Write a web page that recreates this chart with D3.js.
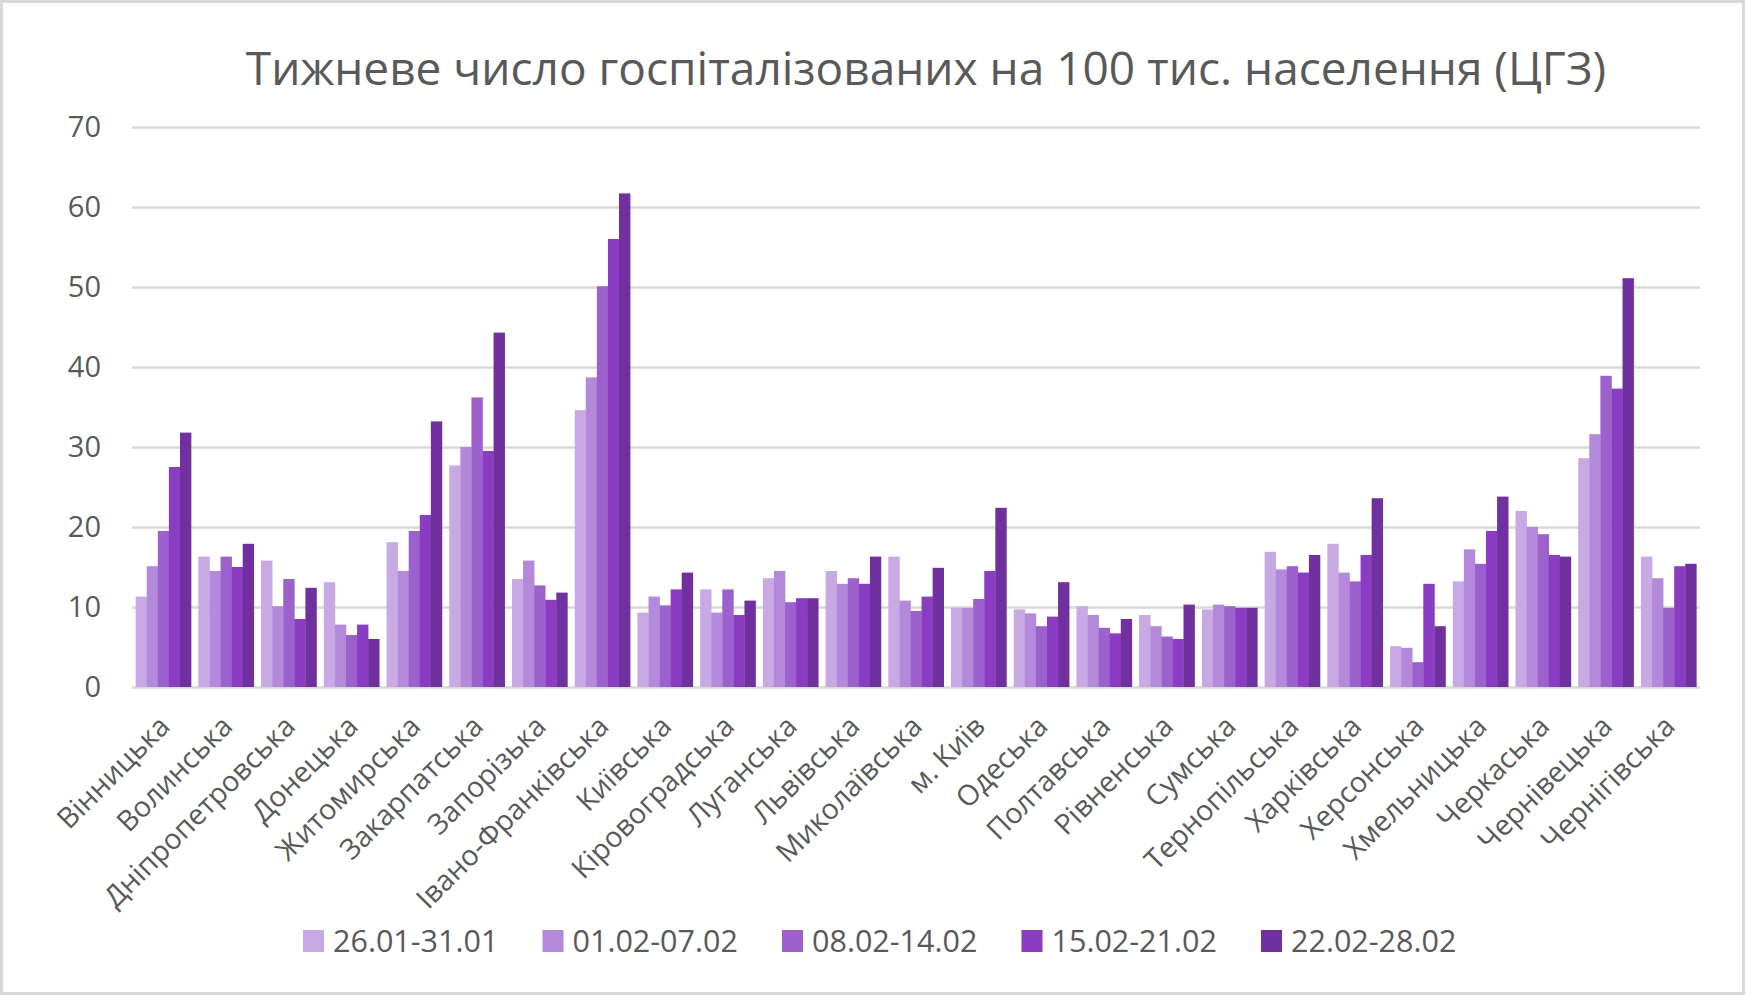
<!DOCTYPE html>
<html>
<head>
<meta charset="utf-8">
<script src="https://cdn.jsdelivr.net/npm/d3@7"></script>
<style>
  html, body { margin: 0; padding: 0; background: #fff; }
  svg { display: block; font-family: "Open Sans", "Noto Sans", sans-serif; }
</style>
</head>
<body>
<div id="chart"></div>
<script>
// Regions (x axis categories).
const regions = [
  "Вінницька", "Волинська", "Дніпропетровська", "Донецька", "Житомирська",
  "Закарпатська", "Запорізька", "Івано-Франківська", "Київська", "Кіровоградська",
  "Луганська", "Львівська", "Миколаївська", "м. Київ", "Одеська",
  "Полтавська", "Рівненська", "Сумська", "Тернопільська", "Харківська",
  "Херсонська", "Хмельницька", "Черкаська", "Чернівецька", "Чернігівська"
];

// Week labels (legend).
const weeks = ["26.01-31.01", "01.02-07.02", "08.02-14.02", "15.02-21.02", "22.02-28.02"];

// Values per week, same order as regions.
const week1 = [11.3, 16.3, 15.8, 13.1, 18.1, 27.7, 13.5, 34.6, 9.3, 12.2, 13.6, 14.5, 16.3, 9.9, 9.7, 10.1, 9.0, 9.7, 16.9, 17.9, 5.1, 13.2, 22.0, 28.6, 16.3];
const week2 = [15.1, 14.5, 10.1, 7.8, 14.5, 30.0, 15.8, 38.7, 11.3, 9.3, 14.5, 12.9, 10.8, 9.9, 9.2, 9.0, 7.6, 10.3, 14.7, 14.3, 4.9, 17.2, 20.0, 31.6, 13.6];
const week3 = [19.5, 16.3, 13.5, 6.5, 19.5, 36.2, 12.7, 50.1, 10.2, 12.2, 10.6, 13.6, 9.5, 11.0, 7.6, 7.4, 6.3, 10.1, 15.1, 13.2, 3.1, 15.4, 19.1, 38.9, 9.9];
const week4 = [27.5, 15.0, 8.5, 7.8, 21.5, 29.5, 10.9, 56.0, 12.2, 9.0, 11.1, 12.9, 11.3, 14.5, 8.8, 6.7, 6.0, 9.9, 14.3, 16.5, 12.9, 19.5, 16.5, 37.3, 15.1];
const week5 = [31.8, 17.9, 12.4, 6.0, 33.2, 44.3, 11.8, 61.7, 14.3, 10.8, 11.1, 16.3, 14.9, 22.4, 13.1, 8.5, 10.3, 9.9, 16.5, 23.6, 7.6, 23.8, 16.3, 51.1, 15.4];

const yTicks = [0, 10, 20, 30, 40, 50, 60, 70];

const colors = ["#c8a9e3", "#b488da", "#9d61cd", "#8a3cc3", "#7030a0"];

const series = [week1, week2, week3, week4, week5];

// Chart size and plot area.
const width = 1746, height = 997;
const plot = { left: 132, right: 1700, top: 127, bottom: 687 };
const textColor = "#595959";
const gridColor = "#d9d9d9";

const svg = d3.select("#chart")
  .append("svg")
    .attr("width", width)
    .attr("height", height);

// Background and outer border.
svg.append("rect")
  .attr("x", 1.5).attr("y", 1.5)
  .attr("width", width - 4).attr("height", height - 5)
  .attr("fill", "#fff")
  .attr("stroke", gridColor)
  .attr("stroke-width", 3);

// Scales.
const x0 = d3.scaleBand()
  .domain(regions)
  .range([plot.left, plot.right])
  .paddingInner(0.117)
  .paddingOuter(0.0585);

const x1 = d3.scaleBand()
  .domain(d3.range(weeks.length))
  .range([0, x0.bandwidth()]);

const y = d3.scaleLinear()
  .domain([0, 70])
  .range([plot.bottom, plot.top]);

// Gridlines and y labels.
const yAxis = svg.append("g")
  .attr("transform", "translate(" + plot.left + ",0)")
  .call(d3.axisLeft(y).tickValues(yTicks).tickSize(-(plot.right - plot.left)).tickPadding(31));

yAxis.select(".domain").remove();
yAxis.selectAll(".tick line")
  .attr("stroke", gridColor)
  .attr("stroke-width", 2.5);
yAxis.selectAll(".tick text")
  .attr("fill", textColor)
  .style("font-size", "29px")
  .style("font-family", "'Open Sans', sans-serif");

// Bars.
const groups = svg.append("g")
  .selectAll("g")
  .data(regions)
  .enter()
  .append("g")
    .attr("transform", d => "translate(" + x0(d) + ",0)");

groups.selectAll("rect")
  .data((d, i) => series.map((s, k) => ({ k: k, v: s[i] })))
  .enter()
  .append("rect")
    .attr("x", d => x1(d.k))
    .attr("y", d => y(d.v))
    .attr("width", x1.bandwidth() + 0.3)
    .attr("height", d => y(0) - y(d.v))
    .attr("fill", d => colors[d.k]);

// Rotated region labels.
svg.append("g")
  .selectAll("text")
  .data(regions)
  .enter()
  .append("text")
    .attr("transform", d => "translate(" + (x0(d) + x0.bandwidth() / 2 + 1) + ",721) rotate(-45)")
    .attr("text-anchor", "end")
    .attr("dy", "0.35em")
    .attr("fill", textColor)
    .style("font-size", "28.5px")
    .text(d => d);

// Title.
svg.append("text")
  .attr("x", 926)
  .attr("y", 85)
  .attr("text-anchor", "middle")
  .attr("fill", textColor)
  .style("font-size", "46px")
  .text("Тижневе число госпіталізованих на 100 тис. населення (ЦГЗ)");

// Legend.
const itemStep = 239.5;
const legendStart = 303;
const legend = svg.append("g")
  .selectAll("g")
  .data(weeks)
  .enter()
  .append("g")
    .attr("transform", (d, i) => "translate(" + (legendStart + i * itemStep) + ",941)");

legend.append("rect")
  .attr("x", 0)
  .attr("y", -11)
  .attr("width", 21)
  .attr("height", 22)
  .attr("fill", (d, i) => colors[i]);

legend.append("text")
  .attr("x", 30)
  .attr("y", 0)
  .attr("dy", "0.36em")
  .attr("fill", textColor)
  .style("font-size", "30.5px")
  .text(d => d);
</script>
</body>
</html>
